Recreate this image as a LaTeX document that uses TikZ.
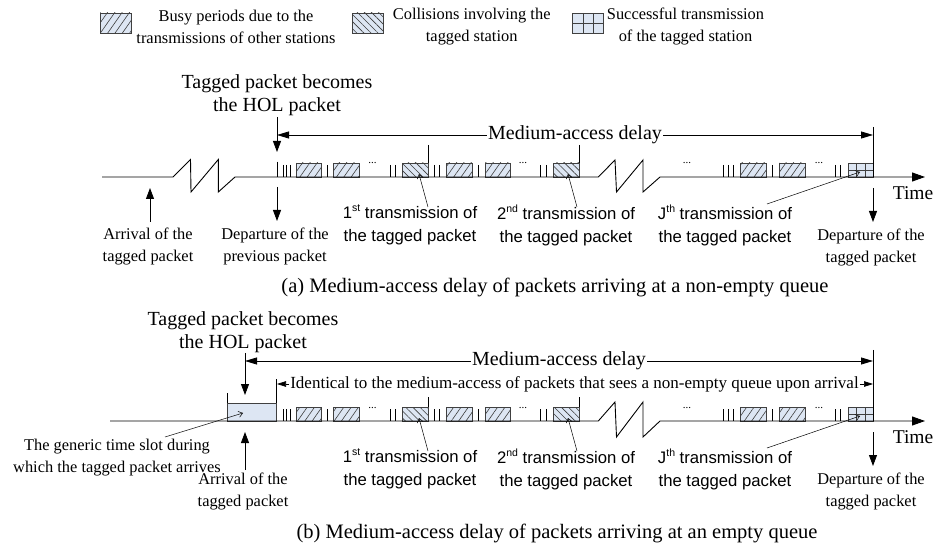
\documentclass[tikz,border=0pt]{standalone}
\usepackage{fontspec}
\setmainfont{Liberation Serif}
\newfontfamily\arialfont{Liberation Sans}
\usetikzlibrary{arrows.meta,patterns.meta}
\definecolor{boxfill}{RGB}{221,230,243}
\definecolor{hatch}{RGB}{60,60,60}
\newcommand\supr[1]{\raisebox{0.42em}{\fontsize{10.5}{10}\selectfont #1}}
\tikzset{
  lbl/.style={font=\fontsize{16.4}{22}\selectfont, align=center, inner sep=0pt},
  albl/.style={font=\arialfont\fontsize{16.7}{23}\selectfont, align=center, inner sep=0pt},
  biglbl/.style={font=\fontsize{20}{23}\selectfont, align=center, inner sep=0pt},
  caplbl/.style={font=\fontsize{20.5}{23}\selectfont, inner sep=0pt},
  malbl/.style={font=\fontsize{20}{23}\selectfont, inner sep=1pt},
  idlbl/.style={font=\fontsize{17}{20}\selectfont, inner sep=1pt},
  timelbl/.style={font=\fontsize{19.5}{22}\selectfont, inner sep=0pt},
  dotslbl/.style={font=\fontsize{11}{11}\selectfont, inner sep=0pt, anchor=base},
  axisline/.style={line width=0.9pt, line join=miter},
  tick/.style={line width=0.6pt},
  vline/.style={line width=0.7pt},
  busy/.style={draw=black!75, line width=0.6pt, preaction={fill=boxfill}, pattern={Lines[angle=55,distance=6pt,line width=0.6pt]}, pattern color=hatch},
  coll/.style={draw=black!75, line width=0.6pt, preaction={fill=boxfill}, pattern={Lines[angle=-45,distance=5pt,line width=0.6pt]}, pattern color=hatch},
  succ/.style={draw=black!75, line width=0.6pt, fill=boxfill},
  gridln/.style={draw=black!75, line width=0.6pt},
  plainslot/.style={draw=black!75, line width=0.6pt, fill=boxfill},
  vertarrow/.style={line width=0.8pt, -{Triangle[length=11pt,width=8pt]}},
  maarrow/.style={line width=0.8pt, -{Triangle[length=12pt,width=7pt]}},
  idarrow/.style={line width=0.7pt, -{Triangle[length=9pt,width=5.5pt]}},
  timearrow/.style={axisline, -{Triangle[length=13pt,width=9pt]}},
  ann/.style={line width=0.5pt, -{Straight Barb[length=4pt,width=6pt]}},
}
\newcommand\commonpart[3]{%
  \foreach \xx in {283.3,286.7,290,327.3,390.7,395,434,439,478.3,540.7,546.7,723.3,728.3,733.3,772.7,835,840}
    {\draw[tick] (\xx,165) -- (\xx,177);}
  \foreach \ua/\ub in {296/321.7,333.3/359.3,446.7/472.7,485/510,740/766.7,779.3/805}
    {\draw[busy] (\ua,163) rectangle (\ub,177);}
  \foreach \ua/\ub in {402.3/428,553.3/579}
    {\draw[coll] (\ua,163) rectangle (\ub,177);
     \draw[vline] (\ub,#2) -- (\ub,163);}
  \draw[succ] (848.3,163) rectangle (873,177);
  \draw[gridln] (856.5,163) -- (856.5,177) (864.8,163) -- (864.8,177) (848.3,170) -- (873,170);
  \draw[vline] (873,#3) -- (873,177);
  \node[dotslbl] (dA#1) at (372.5,164) {...};
  \node[dotslbl] (dB#1) at (523,164) {...};
  \node[dotslbl] (dC#1) at (687,164) {...};
  \node[dotslbl] (dD#1) at (819,164) {...};
  \node[albl] (lone#1) at (410,225) {1\supr{st} transmission of\\the tagged packet};
  \node[albl] (ltwo#1) at (566,225) {2\supr{nd} transmission of\\the tagged packet};
  \node[albl] (lj#1) at (725,225) {J\supr{th} transmission of\\the tagged packet};
  \coordinate (lones#1) at (428,207); \coordinate (lonee#1) at (419,174);
  \coordinate (ltwos#1) at (577,207); \coordinate (ltwoe#1) at (568,174);
  \coordinate (ljs#1) at (767,204); \coordinate (lje#1) at (860,172);
  \draw[ann] (lones#1) -- (lonee#1);
  \draw[ann] (ltwos#1) -- (ltwoe#1);
  \draw[ann] (ljs#1) -- (lje#1);
  \node[lbl] (dt#1) at (871,247) {Departure of the\\tagged packet};
  \coordinate (dts#1) at (873,188); \coordinate (dte#1) at (873,222);
  \draw[vertarrow] (dts#1) -- (dte#1);
  \node[timelbl] (time#1) at (913,193) {Time};
}
\begin{document}
\begin{tikzpicture}[x=1pt,y=-1pt]
\path[use as bounding box, fill=white] (0,0) rectangle (940,553);
% ---------------- legend
\draw[busy] (100,13) rectangle (131,33);
\node[lbl] (lg1) at (236,26.5) {Busy periods due to the\\transmissions of other stations};
\draw[coll] (352.7,13) rectangle (383.3,33);
\node[lbl] (lg2) at (471.7,26.5) {Collisions involving the\\tagged station};
\draw[succ] (572.7,13) rectangle (603.3,33);
\draw[gridln] (582.9,13) -- (582.9,33) (593.1,13) -- (593.1,33) (572.7,23) -- (603.3,23);
\node[lbl] (lg3) at (685.5,26.5) {Successful transmission\\of the tagged station};
% ---------------- part (a)
\commonpart{a}{145}{127}
\draw[axisline] (277,161.7) -- (277,177);
\draw[timearrow] (102,177) -- (173,177) -- (190.5,159.5) -- (191,192) -- (218.3,159.5) -- (218.3,192) -- (235,177)
  -- (598.3,177) -- (615,160) -- (616.5,192) -- (643,160) -- (643,192) -- (660,177) -- (925,177);
\node[biglbl] (hola) at (277,95) {Tagged packet becomes\\the HOL packet};
\coordinate (hols_a) at (277,117); \coordinate (hole_a) at (277,152);
\draw[vertarrow] (hols_a) -- (hole_a);
\node[malbl] (maa) at (575,135) {Medium-access delay};
\coordinate (mal_a) at (277,135); \coordinate (mar_a) at (873,135);
\draw[maarrow] (maa.west) -- (mal_a);
\draw[maarrow] (maa.east) -- (mar_a);
\node[lbl] (ar_a) at (148,246) {Arrival of the\\tagged packet};
\coordinate (ars_a) at (150,222); \coordinate (are_a) at (150,188);
\draw[vertarrow] (ars_a) -- (are_a);
\node[lbl] (dp_a) at (275,246) {Departure of the\\previous packet};
\coordinate (dps_a) at (277,187); \coordinate (dpe_a) at (277,221);
\draw[vertarrow] (dps_a) -- (dpe_a);
\node[caplbl] (capa) at (555,287) {(a) Medium-access delay of packets arriving at a non-empty queue};
% ---------------- part (b)
\begin{scope}[yshift=-244pt]
\commonpart{b}{153}{106}
\end{scope}
\draw[plainslot] (227,403) rectangle (276,421);
\draw[vline] (227,393) -- (227,403);
\draw[vline] (276,379) -- (276,403);
\draw[timearrow] (110,421) -- (598.3,421) -- (615,402) -- (616.5,437) -- (643,402) -- (643,437) -- (660,421) -- (925,421);
\node[biglbl] (holb) at (243,332) {Tagged packet becomes\\the HOL packet};
\coordinate (hols_b) at (245,353); \coordinate (hole_b) at (245,395);
\draw[vertarrow] (hols_b) -- (hole_b);
\node[malbl] (mab) at (559,361) {Medium-access delay};
\coordinate (mal_b) at (245,361); \coordinate (mar_b) at (873,361);
\draw[maarrow] (mab.west) -- (mal_b);
\draw[maarrow] (mab.east) -- (mar_b);
\node[idlbl] (idb) at (574.5,384) {Identical to the medium-access of packets that sees a non-empty queue upon arrival};
\coordinate (idl_b) at (277,384); \coordinate (idr_b) at (873,384);
\draw[idarrow] (idb.west) -- (idl_b);
\draw[idarrow] (idb.east) -- (idr_b);
\node[lbl] (gen_b) at (117,457.5) {The generic time slot during\\which the tagged packet arrives};
\coordinate (gens_b) at (165,437); \coordinate (gene_b) at (243,413);
\draw[ann] (gens_b) -- (gene_b);
\node[lbl] (ar_b) at (243,491.5) {Arrival of the\\tagged packet};
\coordinate (ars_b) at (245,470); \coordinate (are_b) at (245,432);
\draw[vertarrow] (ars_b) -- (are_b);
\node[caplbl] (capb) at (557,533) {(b) Medium-access delay of packets arriving at an empty queue};
\end{tikzpicture}
\end{document}
